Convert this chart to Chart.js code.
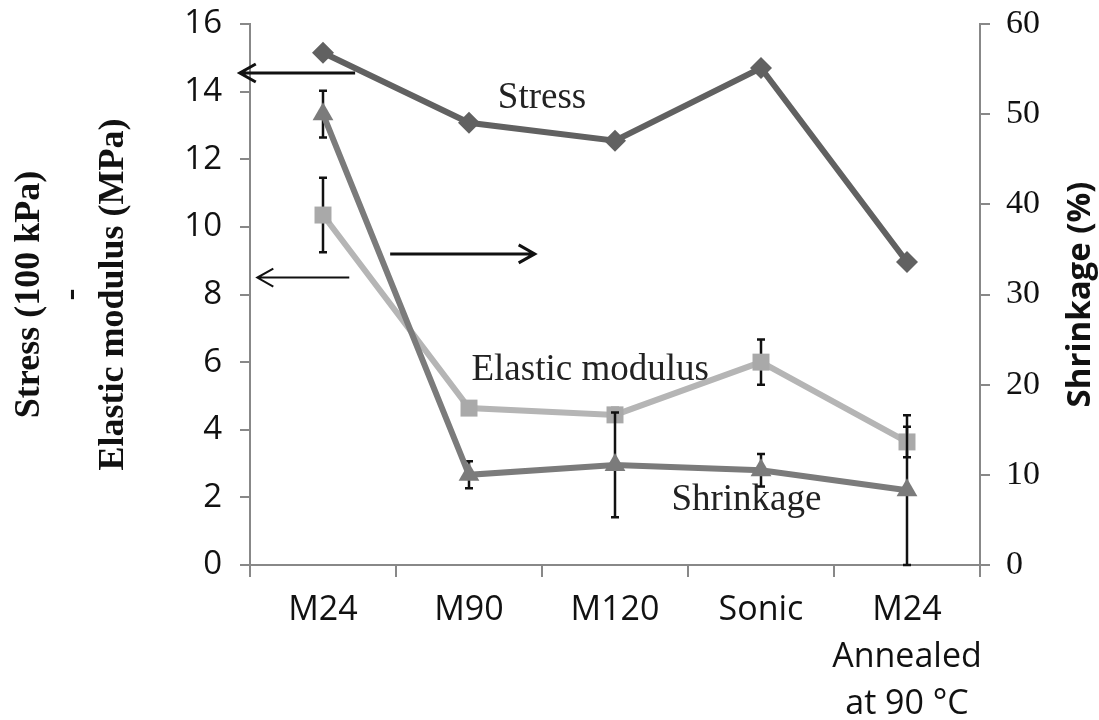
<!DOCTYPE html>
<html>
<head>
<meta charset="utf-8">
<script src="https://cdn.jsdelivr.net/npm/chart.js@4.4.0/dist/chart.umd.min.js"></script>
<style>
  html, body { margin: 0; padding: 0; background: #fff; }
  #wrap { width: 1099px; height: 720px; }
</style>
</head>
<body>
<div id="wrap"><canvas id="chart" width="1099" height="720"></canvas></div>
<script>
const categories = [['M24'], ['M90'], ['M120'], ['Sonic'], ['M24', 'Annealed', 'at 90 °C']];
const stress = [15.15, 13.08, 12.55, 14.7, 8.96];
const elastic = [10.35, 4.64, 4.44, 6.0, 3.64];
const elasticErr = [1.1, 0.2, 0.2, 0.67, 0.45];
const shrinkage = [50.0, 10.0, 11.1, 10.5, 8.3];
const shrinkageErr = [2.6, 1.5, 5.8, 1.8, 8.3];
const leftTicks = [0, 2, 4, 6, 8, 10, 12, 14, 16];
const rightTicks = [0, 10, 20, 30, 40, 50, 60];

// labels and arrows sit in data units (x = category index, y = left axis)
const notes = [
  { text: 'Stress', x: 1.5, y: 13.8 },
  { text: 'Elastic modulus', x: 1.83, y: 5.75 },
  { text: 'Shrinkage', x: 2.9, y: 1.9 }
];
const arrows = [
  { x1: 0.22, x2: -0.57, y: 14.55, w: 3 },
  { x1: 0.18, x2: -0.45, y: 8.5, w: 2 },
  { x1: 0.46, x2: 1.45, y: 9.2, w: 3 }
];

const sansFont = '"Open Sans", "Noto Sans", sans-serif';

function drawErrors(chart, vals, errs, sc) {
  const ctx = chart.ctx;
  const x = chart.scales.x;
  ctx.save();
  ctx.strokeStyle = '#111';
  ctx.lineWidth = 2.5;
  vals.forEach((v, i) => {
    const px = x.getPixelForValue(i);
    const top = sc.getPixelForValue(v + errs[i]);
    const bot = sc.getPixelForValue(Math.max(0, v - errs[i]));
    ctx.beginPath();
    ctx.moveTo(px, top); ctx.lineTo(px, bot);
    ctx.moveTo(px - 4, top); ctx.lineTo(px + 4, top);
    ctx.moveTo(px - 4, bot); ctx.lineTo(px + 4, bot);
    ctx.stroke();
  });
  ctx.restore();
}

const extras = {
  id: 'extras',
  beforeDatasetDraw(chart, args) {
    // error bars sit under their own markers
    if (args.index === 1) drawErrors(chart, elastic, elasticErr, chart.scales.y);
    if (args.index === 2) drawErrors(chart, shrinkage, shrinkageErr, chart.scales.y2);
  },
  afterDraw(chart) {
    const ctx = chart.ctx;
    const x = chart.scales.x, y = chart.scales.y;
    ctx.save();
    ctx.fillStyle = '#222';
    ctx.font = '37px "Liberation Serif", "DejaVu Serif", serif';
    ctx.textAlign = 'center';
    ctx.textBaseline = 'middle';
    notes.forEach(n => ctx.fillText(n.text, x.getPixelForValue(n.x), y.getPixelForValue(n.y)));

    ctx.strokeStyle = '#111';
    arrows.forEach(a => {
      const x1 = x.getPixelForValue(a.x1), x2 = x.getPixelForValue(a.x2), py = y.getPixelForValue(a.y);
      const dir = x2 > x1 ? 1 : -1;
      ctx.lineWidth = a.w;
      ctx.beginPath();
      ctx.moveTo(x1, py); ctx.lineTo(x2, py);
      ctx.moveTo(x2 - dir * 16, py - 9); ctx.lineTo(x2, py); ctx.lineTo(x2 - dir * 16, py + 9);
      ctx.stroke();
    });

    // axis titles
    const a = chart.chartArea;
    const midY = (a.top + a.bottom) / 2;
    ctx.fillStyle = '#111';
    ctx.font = 'bold 36px "Liberation Serif", "DejaVu Serif", serif';
    [['Stress (100 kPa)', 30], ['-', 72], ['Elastic modulus (MPa)', 114]].forEach(([t, cx]) => {
      ctx.save();
      ctx.translate(cx, midY);
      ctx.rotate(-Math.PI / 2);
      ctx.fillText(t, 0, 0);
      ctx.restore();
    });
    ctx.font = 'bold 33px ' + sansFont;
    ctx.save();
    ctx.translate(1081, midY);
    ctx.rotate(-Math.PI / 2);
    ctx.fillText('Shrinkage (%)', 0, 0);
    ctx.restore();
    ctx.restore();
  }
};

new Chart(document.getElementById('chart'), {
  type: 'line',
  data: {
    labels: categories,
    datasets: [
      {
        label: 'Stress', data: stress, yAxisID: 'y', order: 2,
        borderColor: '#616161', backgroundColor: '#616161', borderWidth: 6,
        pointStyle: 'rectRot', pointRadius: 11, pointBackgroundColor: '#616161', pointBorderWidth: 0
      },
      {
        label: 'Elastic modulus', data: elastic, yAxisID: 'y', order: 1,
        borderColor: '#b5b5b5', backgroundColor: '#a9a9a9', borderWidth: 6,
        pointStyle: 'rect', pointRadius: 12, pointBackgroundColor: '#a9a9a9', pointBorderWidth: 0
      },
      {
        label: 'Shrinkage', data: shrinkage, yAxisID: 'y2', order: 0,
        borderColor: '#7b7b7b', backgroundColor: '#7b7b7b', borderWidth: 6,
        pointStyle: 'triangle', pointRadius: 12, pointBackgroundColor: '#7b7b7b', pointBorderWidth: 0
      }
    ]
  },
  options: {
    responsive: false,
    animation: false,
    layout: { padding: { top: 24, left: 0, right: 0, bottom: 0 } },
    plugins: { legend: { display: false }, tooltip: { enabled: false } },
    scales: {
      x: {
        offset: true,
        grid: { offset: true, drawOnChartArea: false, color: '#888', lineWidth: 2, tickLength: 12 },
        border: { color: '#888', width: 2 },
        ticks: {
          color: '#111', maxRotation: 0, autoSkip: false, padding: 10,
          font: { family: sansFont, size: 34, lineHeight: 1.38 }
        },
        afterFit(s) { s.height = 155; s.paddingLeft = 0; s.paddingRight = 0; }
      },
      y: {
        position: 'left', min: 0, max: 16,
        afterBuildTicks(s) { s.ticks = leftTicks.map(v => ({ value: v })); },
        grid: { drawOnChartArea: false, color: '#888', lineWidth: 2, tickLength: 10 },
        border: { color: '#888', width: 2 },
        ticks: {
          color: '#111', padding: 18,
          font: { family: sansFont, size: 33 }
        },
        afterFit(s) { s.width = 250; s.paddingTop = 0; s.paddingBottom = 0; }
      },
      y2: {
        position: 'right', min: 0, max: 60,
        afterBuildTicks(s) { s.ticks = rightTicks.map(v => ({ value: v })); },
        grid: { drawOnChartArea: false, color: '#888', lineWidth: 2, tickLength: 10 },
        border: { color: '#888', width: 2 },
        ticks: {
          color: '#111', padding: 16,
          font: { family: '"Liberation Serif", "DejaVu Serif", serif', size: 34 }
        },
        afterFit(s) { s.width = 119; s.paddingTop = 0; s.paddingBottom = 0; }
      }
    }
  },
  plugins: [extras]
});
</script>
</body>
</html>
